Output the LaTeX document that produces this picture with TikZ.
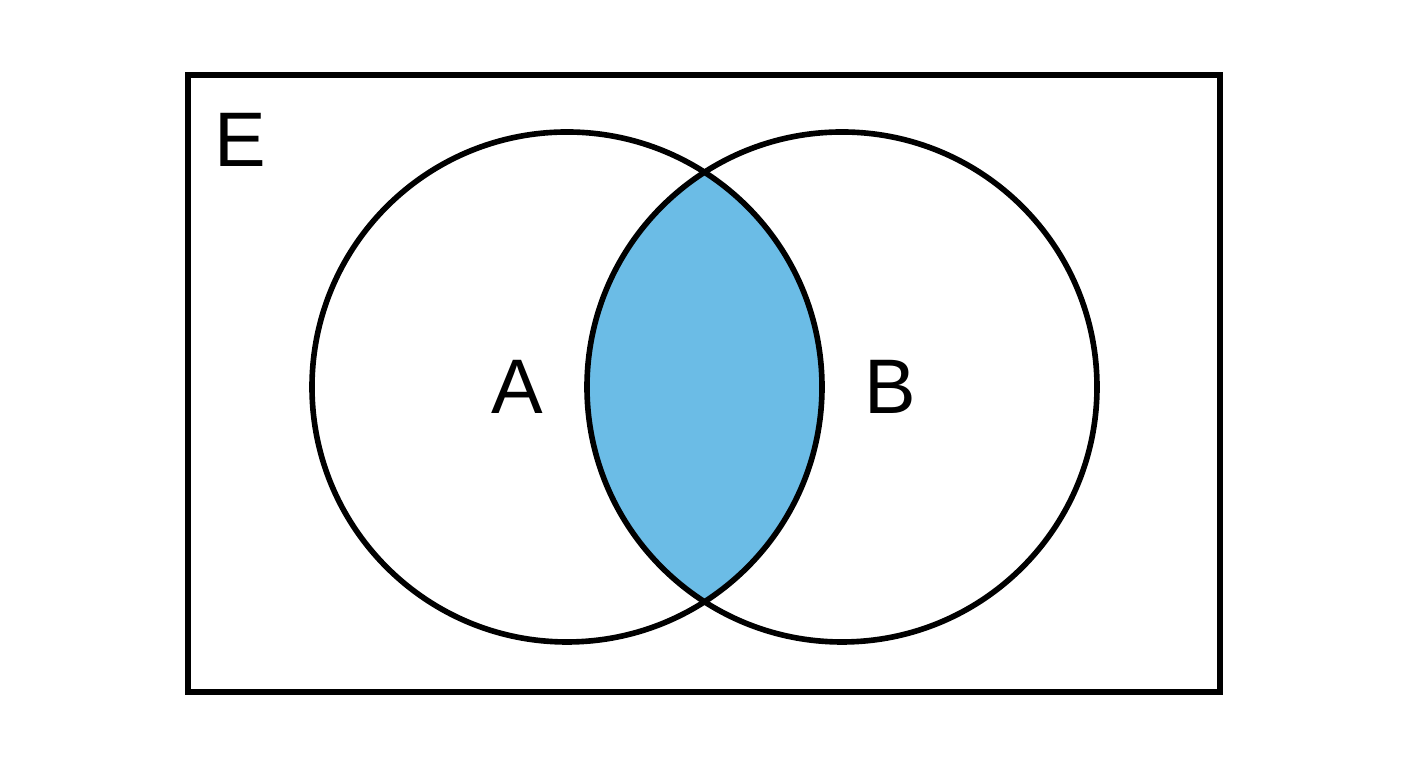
\documentclass[tikz,border=0pt]{standalone}
\usepackage{fontspec}
\setmainfont{Liberation Sans}
\definecolor{lens}{HTML}{6BBCE6}
\begin{document}
\begin{tikzpicture}[x=0.01cm,y=-0.01cm,line width=1.6pt,
  lbl/.style={font=\fontsize{22}{24}\selectfont}]
\useasboundingbox (0,0) rectangle (1408,768);
\begin{scope}
  \clip (567,387) circle[radius=255];
  \fill[lens] (842,387) circle[radius=255];
\end{scope}
\draw (188,75) rectangle (1220,692);
\draw (567,387) circle[radius=255];
\draw (842,387) circle[radius=255];
\node[lbl] (E) at (240,140) {E};
\node[lbl] (A) at (517,387) {A};
\node[lbl] (B) at (890,387) {B};
\end{tikzpicture}
\end{document}
